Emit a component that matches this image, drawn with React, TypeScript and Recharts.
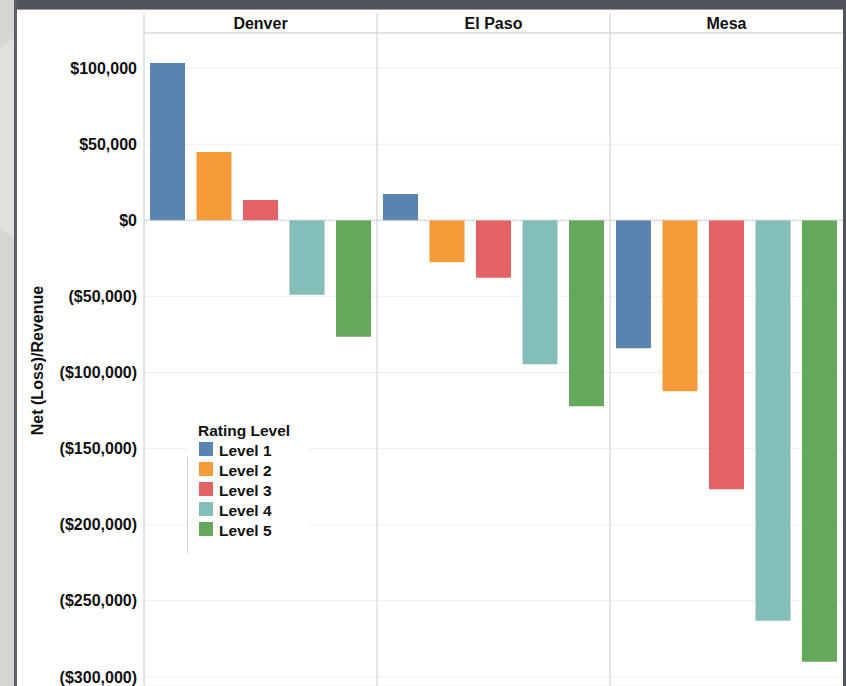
import React from 'react';
import { BarChart, Bar, XAxis, YAxis, CartesianGrid, ReferenceLine, Legend, Label } from 'recharts';

const cities = ['Denver', 'El Paso', 'Mesa'];
const levelNames = ['Level 1', 'Level 2', 'Level 3', 'Level 4', 'Level 5'];
const levelColors = ['#5a83af', '#f49a39', '#e46264', '#83beb8', '#64a95b'];
const level1 = [103400, 17300, -84100];
const level2 = [44900, -27600, -112400];
const level3 = [13300, -37700, -176700];
const level4 = [-48900, -94600, -263100];
const level5 = [-76500, -122200, -290000];
const yTicks = [100000, 50000, 0, -50000, -100000, -150000, -200000, -250000, -300000];
const yDomain = [-306000, 123060];
const headerTop = 136200;

const levels = [level1, level2, level3, level4, level5];
const data = cities.map((city, i) => {
  const row: Record<string, any> = { city };
  levels.forEach((arr, j) => {
    row[`level${j + 1}`] = arr[i];
  });
  return row;
});

const FONT = '"Liberation Sans", Arial, sans-serif';

const fmt = (v: number) =>
  v < 0 ? `($${Math.abs(v).toLocaleString('en-US')})` : `$${v.toLocaleString('en-US')}`;

const CityTick = (props: any) => {
  const { x, y, payload } = props;
  return (
    <text x={x} y={y} dy={-4} textAnchor="middle" fontFamily={FONT} fontWeight="bold" fontSize={16} fill="#111">
      {payload.value}
    </text>
  );
};

const YTitle = (props: any) => {
  const vb = props.viewBox || { x: 0, y: 33, width: 144, height: 653 };
  const cx = vb.x + 43;
  const cy = vb.y + vb.height / 2 + 1;
  return (
    <text
      x={cx}
      y={cy}
      transform={`rotate(-90, ${cx}, ${cy})`}
      textAnchor="middle"
      fontFamily={FONT}
      fontWeight="bold"
      fontSize={16}
      fill="#111"
    >
      Net (Loss)/Revenue
    </text>
  );
};

const LegendContent = () => (
  <div style={{ position: 'relative', background: '#fff', width: 120, height: 136, fontFamily: FONT, fontWeight: 'bold', fontSize: 15.5, color: '#111' }}>
    <div style={{ position: 'absolute', left: -1, top: 36, width: 1, height: 96, background: '#cfcfcf' }} />
    <div style={{ paddingLeft: 10, height: 20, lineHeight: '20px', whiteSpace: 'nowrap' }}>Rating Level</div>
    {levelNames.map((n, i) => (
      <div key={n} style={{ height: 20, lineHeight: '20px', display: 'flex', alignItems: 'flex-start', whiteSpace: 'nowrap' }}>
        <div style={{ width: 14, height: 14, marginLeft: 11, marginTop: 1, background: levelColors[i] }} />
        <div style={{ marginLeft: 6 }}>{n}</div>
      </div>
    ))}
  </div>
);

export default function App() {
  return (
    <div style={{ position: 'absolute', left: 0, top: 0, width: 846, height: 686, overflow: 'hidden', background: '#d5d6d2' }}>
      <svg width={846} height={686} style={{ position: 'absolute', left: 0, top: 0 }}>
        <polygon points="0,48 14,38 14,238 0,228" fill="#e0e0dc" />
        <rect x={14} y={0} width={832} height={9} fill="#50555d" />
        <rect x={14} y={9} width={832} height={1} fill="#9a9ea3" />
        <rect x={14} y={0} width={3} height={686} fill="#5a5e65" />
        <rect x={17} y={10} width={826} height={676} fill="#ffffff" />
        <rect x={843} y={0} width={3} height={686} fill="#50555d" />
      </svg>
      <div style={{ position: 'absolute', left: 0, top: 0 }}>
        <BarChart
          width={846}
          height={686}
          data={data}
          margin={{ top: 13, right: 3, left: 0, bottom: 0 }}
          barGap={11.5}
          barSize={35}
        >
          <CartesianGrid horizontal vertical={false} stroke="#efefef" strokeWidth={1} />
          <XAxis
            dataKey="city"
            orientation="top"
            height={20}
            tickLine={false}
            tickSize={0}
            tickMargin={0}
            axisLine={{ stroke: '#d2d2d2' }}
            tick={<CityTick />}
            interval={0}
          />
          <YAxis
            width={144}
            domain={yDomain}
            allowDataOverflow
            ticks={yTicks}
            tickFormatter={fmt}
            axisLine={false}
            tickLine={false}
            tickSize={0}
            tickMargin={7}
            tick={{ fontFamily: FONT, fontWeight: 'bold', fontSize: 16, fill: '#111' }}
            interval={0}
          >
            <Label content={<YTitle />} />
          </YAxis>
          <ReferenceLine y={0} stroke="#b8b8b8" strokeDasharray="1 1" />
          {cities.map((c) => (
            <ReferenceLine
              key={c}
              segment={[{ x: c, y: headerTop }, { x: c, y: yDomain[0] }]}
              position="start"
              ifOverflow="visible"
              stroke="#cccccc"
            />
          ))}
          {levelNames.map((n, j) => (
            <Bar key={n} dataKey={`level${j + 1}`} name={n} fill={levelColors[j]} isAnimationActive={false} />
          ))}
          <Legend
            layout="vertical"
            align="center"
            verticalAlign="middle"
            content={<LegendContent />}
            wrapperStyle={{ position: 'absolute', left: 188, top: 421, width: 120, height: 136 }}
          />
        </BarChart>
      </div>
    </div>
  );
}
